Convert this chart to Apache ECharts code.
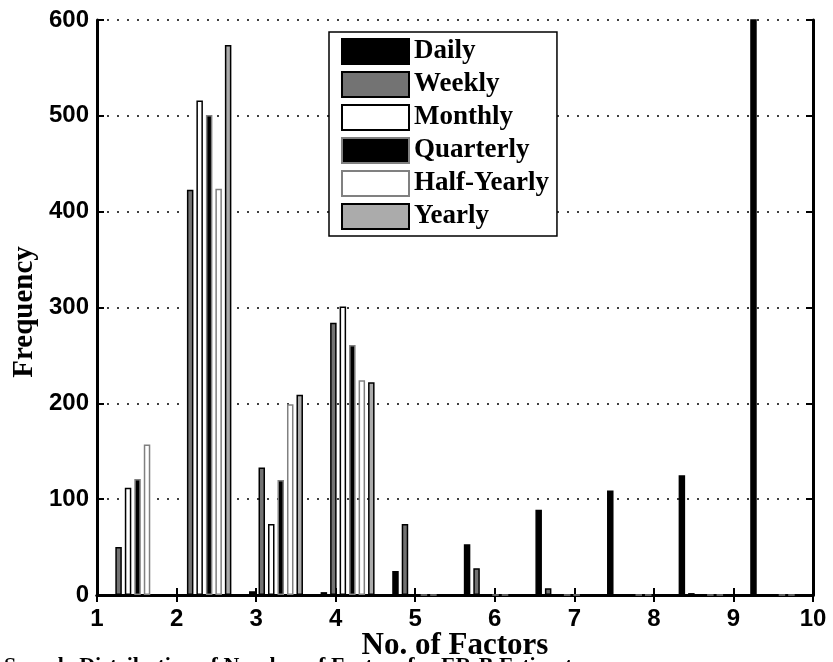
<!DOCTYPE html>
<html>
<head>
<meta charset="utf-8">
<title>Number of Factors</title>
<script src="https://cdn.jsdelivr.net/npm/echarts@6/dist/echarts.min.js"></script>
<style>
  html, body { margin: 0; padding: 0; background: #fff; }
  #chart { width: 833px; height: 662px; }
</style>
</head>
<body>
<div id="chart"></div>
<script>
// hist bin centres (10 bins between 1 and 10)
const binCenters = [1.45, 2.35, 3.25, 4.15, 5.05, 5.95, 6.85, 7.75, 8.65, 9.55]
// frequencies per sampling frequency
const daily = [0, 0, 4, 3, 25, 53, 89, 109, 125, 650]
const weekly = [50, 423, 133, 284, 74, 28, 7, 0, 2, 0]
const monthly = [112, 516, 74, 301, 0, 0, 0, 0, 0, 0]
const quarterly = [121, 501, 120, 261, 0, 0, 0, 0, 0, 0]
const halfYearly = [157, 424, 199, 224, 0, 0, 0, 0, 0, 0]
const yearly = [0, 574, 209, 222, 0, 0, 0, 0, 0, 0]
const seriesNames = ['Daily', 'Weekly', 'Monthly', 'Quarterly', 'Half-Yearly', 'Yearly']

const serif = 'Liberation Serif'
const sans = 'Liberation Sans'

function pairs (vals) {
  return binCenters.map((c, i) => [c, vals[i]])
}

function barSeries (name, vals, fill, edge) {
  return {
    name: name,
    type: 'bar',
    data: pairs(vals),
    barWidth: 6.5,
    barGap: '46%',
    itemStyle: {
      color: fill,
      borderColor: edge,
      borderWidth: 1.5
    }
  }
}

const chart = echarts.init(document.getElementById('chart'))

const option = {
  animation: false,
  backgroundColor: '#fff',
  grid: {
    left: 97,
    right: 20,
    top: 20,
    bottom: 67
  },
  legend: {
    data: seriesNames,
    orient: 'vertical',
    left: 329,
    top: 32,
    icon: 'rect',
    itemWidth: 67,
    itemHeight: 25,
    itemGap: 6,
    padding: [6, 8, 6, 12],
    backgroundColor: '#fff',
    borderColor: '#000',
    borderWidth: 1.5,
    textStyle: {
      fontFamily: serif,
      fontWeight: 'bold',
      fontSize: 27,
      lineHeight: 25,
      color: '#000'
    }
  },
  xAxis: [
    {
      type: 'value',
      min: 1,
      max: 10,
      interval: 1,
      axisLine: { lineStyle: { color: '#000', width: 3 } },
      axisTick: { inside: true, length: 7, lineStyle: { color: '#000', width: 2 } },
      axisLabel: {
        margin: 12,
        fontFamily: sans,
        fontWeight: 'bold',
        fontSize: 24,
        color: '#000'
      },
      splitLine: { show: false }
    },
    {
      type: 'value',
      position: 'top',
      min: 1,
      max: 10,
      interval: 1,
      axisLine: { lineStyle: { color: '#000', width: 3 } },
      axisTick: { inside: true, length: 7, lineStyle: { color: '#000', width: 2 } },
      axisLabel: { show: false },
      splitLine: { show: false }
    }
  ],
  yAxis: [
    {
      type: 'value',
      min: 0,
      max: 600,
      interval: 100,
      axisLine: { show: true, lineStyle: { color: '#000', width: 3 } },
      axisTick: { show: true, inside: true, length: 7, lineStyle: { color: '#000', width: 2 } },
      axisLabel: {
        margin: 8,
        fontFamily: sans,
        fontWeight: 'bold',
        fontSize: 24,
        color: '#000'
      },
      splitLine: {
        show: true,
        lineStyle: { color: '#000', width: 1.5, type: [2, 8] }
      }
    },
    {
      type: 'value',
      position: 'right',
      min: 0,
      max: 600,
      interval: 100,
      axisLine: { show: true, lineStyle: { color: '#000', width: 3 } },
      axisTick: { show: true, inside: true, length: 7, lineStyle: { color: '#000', width: 2 } },
      axisLabel: { show: false },
      splitLine: { show: false }
    }
  ],
  series: [
    barSeries('Daily', daily, '#000', '#000'),
    barSeries('Weekly', weekly, '#737373', '#000'),
    barSeries('Monthly', monthly, '#fff', '#000'),
    barSeries('Quarterly', quarterly, '#000', '#808080'),
    barSeries('Half-Yearly', halfYearly, '#fff', '#808080'),
    barSeries('Yearly', yearly, '#ababab', '#000')
  ],
  graphic: [
    {
      type: 'text',
      x: 455,
      y: 646,
      style: {
        text: 'No. of Factors',
        align: 'center',
        verticalAlign: 'middle',
        font: 'bold 31px "Liberation Serif"',
        fill: '#000'
      }
    },
    {
      type: 'text',
      x: 25,
      y: 312,
      rotation: Math.PI / 2,
      style: {
        text: 'Frequency',
        align: 'center',
        verticalAlign: 'middle',
        font: 'bold 29px "Liberation Serif"',
        fill: '#000'
      }
    },
    {
      type: 'text',
      x: 4,
      y: 655,
      style: {
        text: 'Sample Distribution of Number of Factors for ER-B Estimates',
        align: 'left',
        verticalAlign: 'top',
        font: 'bold 22px "Liberation Serif"',
        fill: '#000'
      }
    }
  ]
}

chart.setOption(option)
</script>
</body>
</html>
